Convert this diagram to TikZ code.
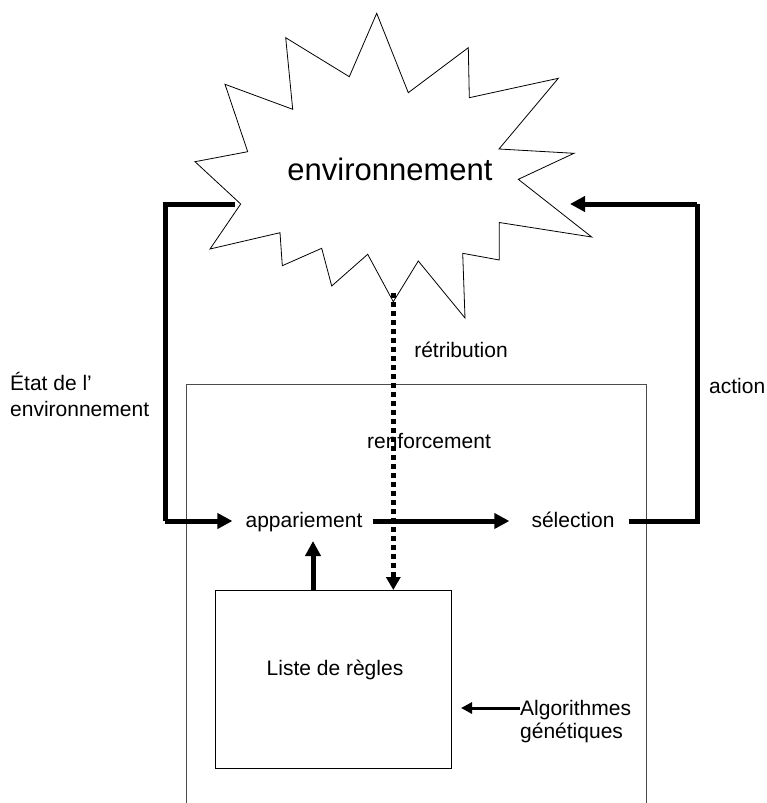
\documentclass[tikz,border=0pt]{standalone}
\usepackage{fontspec}
\setmainfont{Liberation Sans}
\usetikzlibrary{arrows.meta,positioning}
\tikzset{
  flux/.style={line width=5pt, -{Triangle[length=15pt,width=15pt]}},
  fluxsans/.style={line width=5pt},
  retour/.style={line width=5.5pt, dash pattern=on 5pt off 4pt, -{Triangle[length=13pt,width=14pt]}},
  petit/.style={font=\fontsize{21}{25}\selectfont, inner sep=0pt},
  cadre/.style={draw=black!70, line width=1pt}
}
\begin{document}
\begin{tikzpicture}[x=1pt,y=-1pt]
\useasboundingbox (0,0) rectangle (766,803);
% l'environnement
\draw [line width=0.8pt] (376.7,13.3) -- (408.3,92.7) -- (468.3,47.7) -- (469.3,97.7)
  -- (558.3,78.3) -- (499,149) -- (574,153.3) -- (518.3,179.3) -- (591.7,237)
  -- (499.3,222.5) -- (499.3,260) -- (462.7,253.3) -- (465,318) -- (418.3,261)
  -- (393.3,301.7) -- (367.7,254.3) -- (331.7,286) -- (321.7,248.3) -- (282.3,265.7)
  -- (280,232.7) -- (210,249) -- (240.7,204) -- (195,161.7) -- (247.7,151.7)
  -- (225,84.3) -- (292.7,109.3) -- (285.7,37.7) -- (349.3,76.7) -- cycle;
\node [font=\fontsize{31}{36}\selectfont, inner sep=0pt, anchor=base] (env) at (390,180) {environnement};
\coordinate (envG) at (235,204);
\coordinate (envD) at (570,204);
\coordinate (envB) at (393.3,293);
% le systeme
\draw [cadre] (186,384) rectangle (646,812);
\node [cadre, draw=black, minimum width=236pt, minimum height=178pt, anchor=north west] (regles) at (215,590) {};
\node [petit, anchor=base] (liste) at (335,675) {Liste de règles};
\node [petit, anchor=base] (app) at (304,527) {appariement};
\node [petit, anchor=base] (sel) at (573,527) {sélection};
\node [petit, anchor=base] (ren) at (429,448) {renforcement};
\node [petit, anchor=base] (ret) at (461,357) {rétribution};
\node [petit, anchor=base west] (act) at (709,393) {action};
\node [petit, anchor=base west, align=left] (etat) at (10,390) {État de l’};
\node [petit, anchor=base west] (etat2) at (10,416) {environnement};
\node [petit, anchor=base west, align=left] (algo) at (520,715) {Algorithmes};
\node [petit, anchor=base west] (algo2) at (520,738) {génétiques};
% fleches
\draw [fluxsans] (envG) -| (165,521);
\draw [flux] (165,521) -- ([xshift=-13pt]app.west |- 0,521);
\draw [flux] ([xshift=10pt]app.east |- 0,521) -- ([xshift=-22pt]sel.west |- 0,521);
\draw [fluxsans] ([xshift=14pt]sel.east |- 0,521) -| (697,204);
\draw [flux] (697,204) -- (envD);
\draw [flux] (regles.north -| 313,0) -- (313,541);
\draw [retour] (envB) -- (regles.north -| envB);
\draw [line width=3pt, -{Triangle[length=11pt,width=11pt]}] (algo.west |- 0,708) -- (461,708);
\end{tikzpicture}
\end{document}
